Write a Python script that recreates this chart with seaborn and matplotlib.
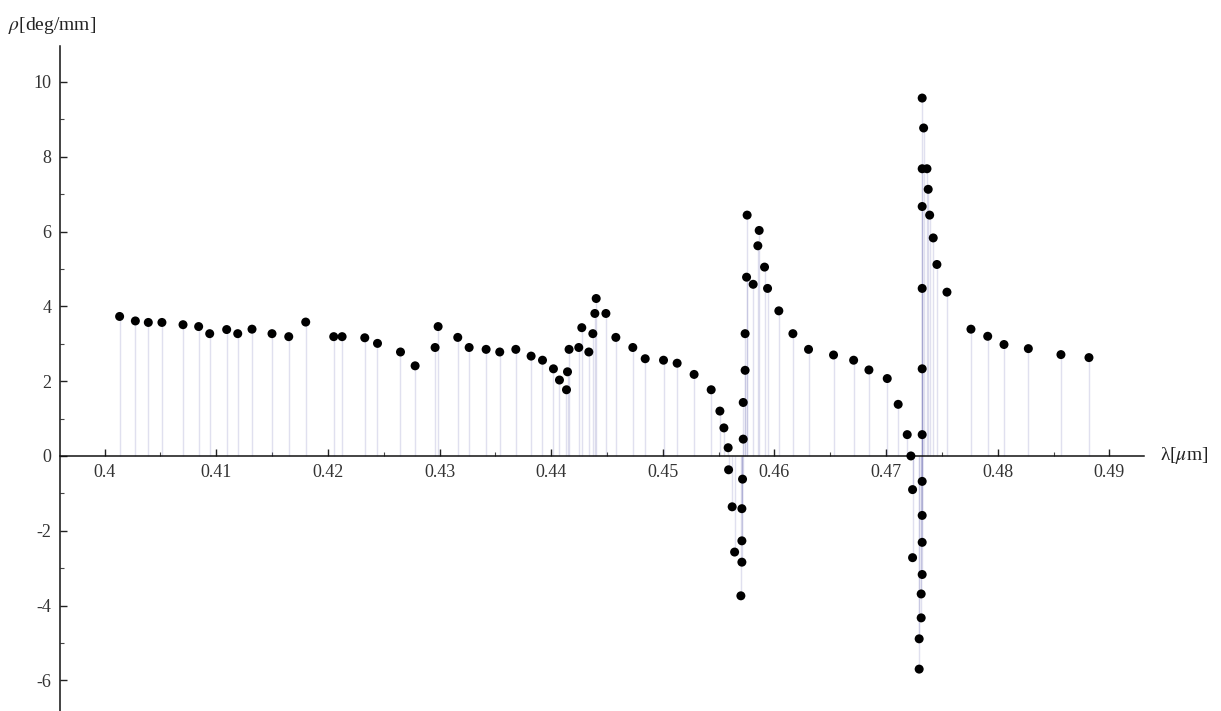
import numpy as np
import matplotlib
matplotlib.use("Agg")
import matplotlib.pyplot as plt
from matplotlib.ticker import MultipleLocator, FuncFormatter
import seaborn as sns

# wavelength [um] and rotatory power [deg/mm]
wavelength = [
    0.40134, 0.40275, 0.40391, 0.40513, 0.40702, 0.40842, 0.40941, 0.41093, 0.41192, 0.41320,
    0.41499, 0.41649, 0.41801, 0.42052, 0.42127, 0.42330, 0.42444, 0.42650, 0.42781, 0.42960,
    0.42987, 0.43163, 0.43265, 0.43417, 0.43539, 0.43683, 0.43820, 0.43922, 0.44020, 0.44074,
    0.44137, 0.44146, 0.44160, 0.44247, 0.44274, 0.44337, 0.44373, 0.44391, 0.44403, 0.44490,
    0.44579, 0.44731, 0.44842, 0.45006, 0.45128, 0.45280, 0.45433, 0.45511, 0.45547, 0.45585,
    0.45589, 0.45621, 0.45643, 0.45699, 0.45708, 0.45708, 0.45708, 0.45714, 0.45720, 0.45720,
    0.45737, 0.45737, 0.45750, 0.45755, 0.45809, 0.45851, 0.45863, 0.45911, 0.45938, 0.46039,
    0.46165, 0.46305, 0.46529, 0.46709, 0.46846, 0.47010, 0.47108, 0.47189, 0.47222, 0.47237,
    0.47237, 0.47323, 0.47336, 0.47323, 0.47366, 0.47377, 0.47323, 0.47390, 0.47422, 0.47455,
    0.47323, 0.47545, 0.47323, 0.47323, 0.47323, 0.47323, 0.47323, 0.47323, 0.47314, 0.47314,
    0.47296, 0.47296, 0.47760, 0.47910, 0.48056, 0.48274, 0.48566, 0.48817,
]
rho = [
    3.73, 3.61, 3.57, 3.57, 3.51, 3.46, 3.27, 3.38, 3.27, 3.39,
    3.27, 3.19, 3.58, 3.19, 3.19, 3.16, 3.01, 2.78, 2.41, 2.90,
    3.46, 3.17, 2.90, 2.85, 2.78, 2.85, 2.67, 2.56, 2.33, 2.03,
    1.77, 2.25, 2.85, 2.90, 3.43, 2.78, 3.27, 3.81, 4.21, 3.81,
    3.17, 2.90, 2.60, 2.56, 2.48, 2.18, 1.77, 1.20, 0.75, 0.22,
    -0.37, -1.36, -2.57, -3.74, -2.84, -2.27, -1.41, -0.62, 0.45, 1.43,
    2.29, 3.27, 4.78, 6.44, 4.59, 5.62, 6.03, 5.05, 4.48, 3.88,
    3.27, 2.85, 2.70, 2.56, 2.30, 2.07, 1.38, 0.57, 0.00, -0.90,
    -2.72, 9.57, 8.77, 7.68, 7.68, 7.13, 6.67, 6.44, 5.83, 5.12,
    4.48, 4.38, 2.33, 0.57, -0.68, -1.59, -2.31, -3.17, -3.69, -4.33,
    -4.89, -5.70, 3.39, 3.20, 2.98, 2.87, 2.71, 2.63,
]

x_ticks = [0.40, 0.41, 0.42, 0.43, 0.44, 0.45, 0.46, 0.47, 0.48, 0.49]
y_ticks = [-6, -4, -2, 0, 2, 4, 6, 8, 10]

sns.set_style("white")
plt.rcParams["font.family"] = ["Liberation Serif", "DejaVu Serif"]
plt.rcParams["mathtext.fontset"] = "stix"
plt.rcParams["axes.unicode_minus"] = False

fig = plt.figure(figsize=(12.21, 7.11), dpi=100)
ax = fig.add_axes([60 / 1221, 0.0, (1144 - 60) / 1221, 1 - 45.7 / 711])

# filling to axis, like Mathematica's Filling -> Axis
ax.vlines(wavelength, 0, rho, color=(0.45, 0.45, 0.72), alpha=0.22, lw=1.0, zorder=1)
sns.scatterplot(x=wavelength, y=rho, color="black", s=42, edgecolor="none", ax=ax, zorder=3)

ax.set_xlim(0.396, 0.4931)
ax.set_ylim(-6.82, 10.97)

for side in ["top", "right"]:
    ax.spines[side].set_visible(False)
ax.spines["bottom"].set_position(("data", 0))
for side in ["left", "bottom"]:
    ax.spines[side].set_color("#111111")
    ax.spines[side].set_linewidth(1.1)

ax.set_xticks(x_ticks)
ax.set_yticks(y_ticks)
ax.xaxis.set_minor_locator(MultipleLocator(0.005))
ax.yaxis.set_minor_locator(MultipleLocator(1))
ax.xaxis.set_major_formatter(FuncFormatter(lambda v, p: f"{v:g}"))
ax.yaxis.set_major_formatter(FuncFormatter(lambda v, p: f"{v:g}"))

ax.tick_params(which="both", bottom=True, left=True, top=False, right=False)
ax.tick_params(which="major", direction="in", length=5, width=1, color="#222222",
               labelsize=13, labelcolor="#333333")
ax.tick_params(which="minor", direction="in", length=3, width=0.8, color="#444444")
ax.tick_params(axis="x", pad=6)
ax.tick_params(axis="y", pad=6)

fig.text(8 / 1221, 1 - 25 / 711, r"$\rho$[deg/mm]", fontsize=14, color="#222222",
         ha="left", va="center")
fig.text(1160 / 1221, 1 - 456 / 711, r"λ[$\mu$m]", fontsize=14, color="#222222",
         ha="left", va="center")

plt.savefig("out.png", dpi=100)
plt.close()
